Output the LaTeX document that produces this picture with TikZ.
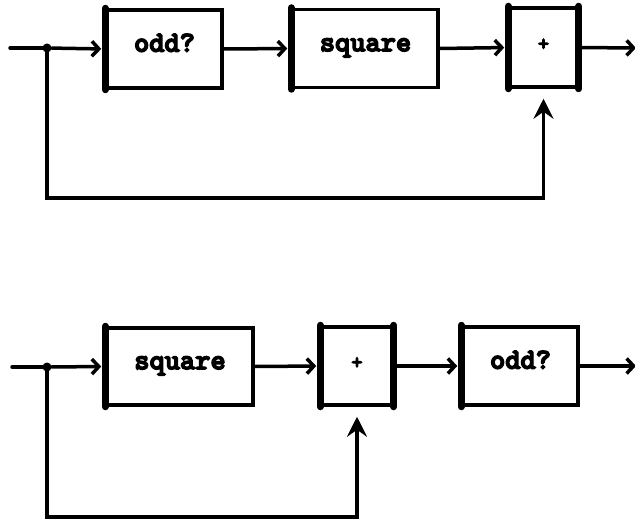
\documentclass[tikz,border=0pt]{standalone}
\usepackage{fontspec}
\newfontfamily\boxfont[FakeBold=5]{lmmonolt10-bold.otf}
\usetikzlibrary{arrows.meta}
\begin{document}
\begin{tikzpicture}[x=1pt,y=-1pt,
  box/.style={draw, line width=3.5pt, inner sep=0pt, minimum height=78pt,
    text height=1.5ex, text depth=0.25ex,
    font=\boxfont\fontsize{29}{29}\selectfont},
  thickedge/.style={line width=7pt, line cap=round},
  wire/.style={line width=3.5pt, line cap=round},
  arr/.style={wire, -{Straight Barb[length=7pt,width=15pt,line width=3.5pt]}, shorten >=4pt},
  uparr/.style={wire, -{Stealth[length=20pt,width=20pt,inset=7pt]}, shorten >=10pt},
  dot/.style={circle, fill, inner sep=0pt, minimum size=9pt}]
\useasboundingbox (0,0) rectangle (635,519);

% ---- top diagram ----
\node[box, minimum width=115pt] (o1) at (164.5,49) {odd?};
\node[box, minimum width=145pt] (s1) at (365.5,48.5) {square};
\node[box, minimum width=67pt, minimum height=79pt] (p1) at (543.5,47.5) {\fontsize{21}{21}\selectfont+};
\draw[thickedge] (o1.north west) -- (o1.south west);
\draw[thickedge] (s1.north west) -- (s1.south west);
\draw[thickedge] (p1.north west) -- (p1.south west);
\draw[thickedge] (p1.north east) -- (p1.south east);
\coordinate (in1) at (10,48);
\node[dot] (j1) at (47,48) {};
\coordinate (b1) at (47,198);
\coordinate (out1) at (636,48);
\draw[wire] (in1) -- (j1);
\draw[arr] (j1) -- (o1.west);
\draw[arr] (o1.east) -- (s1.west);
\draw[arr] (s1.east) -- (p1.west);
\draw[arr, shorten >=0pt] (p1.east) -- (out1);
\draw[uparr] (j1.center) -- (b1) -| (p1.south);

% ---- bottom diagram ----
\node[box, minimum width=146pt, minimum height=77pt] (s2) at (180,366.5) {square};
\node[box, minimum width=70pt] (p2) at (357,366) {\fontsize{21}{21}\selectfont+};
\node[box, minimum width=115pt] (o2) at (520.5,366) {odd?};
\draw[thickedge] (s2.north west) -- (s2.south west);
\draw[thickedge] (p2.north west) -- (p2.south west);
\draw[thickedge] (p2.north east) -- (p2.south east);
\draw[thickedge] (o2.north west) -- (o2.south west);
\coordinate (in2) at (12,367);
\node[dot] (j2) at (47,367) {};
\coordinate (b2) at (47,517);
\coordinate (out2) at (636,366);
\draw[wire] (in2) -- (j2);
\draw[arr] (j2) -- (s2.west);
\draw[arr] (s2.east) -- (p2.west);
\draw[arr] (p2.east) -- (o2.west);
\draw[arr, shorten >=0pt] (o2.east) -- (out2);
\draw[uparr] (j2.center) -- (b2) -| (p2.south);
\end{tikzpicture}
\end{document}
